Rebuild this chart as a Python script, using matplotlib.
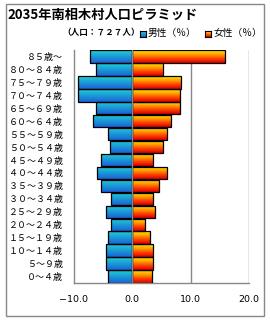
import numpy as np
import matplotlib
matplotlib.use('Agg')
import matplotlib.pyplot as plt
from matplotlib.colors import LinearSegmentedColormap
from matplotlib.patches import Rectangle

plt.rcParams['font.family'] = ['Noto Sans CJK JP', 'DejaVu Sans']

ages = ['０～４歳', '５～９歳', '１０～１４歳', '１５～１９歳', '２０～２４歳', '２５～２９歳',
        '３０～３４歳', '３５～３９歳', '４０～４４歳', '４５～４９歳', '５０～５４歳', '５５～５９歳',
        '６０～６４歳', '６５～６９歳', '７０～７４歳', '７５～７９歳', '８０～８４歳', '８５歳～']
male = [4.2, 4.6, 4.6, 4.2, 3.6, 4.6, 3.6, 5.4, 6.0, 5.4, 3.9, 4.2, 6.7, 6.3, 9.4, 9.4, 6.3, 7.3]
female = [3.3, 3.6, 3.6, 3.1, 2.2, 3.8, 3.6, 4.5, 5.9, 3.6, 5.3, 5.9, 6.6, 8.1, 8.1, 8.4, 5.3, 15.9]
xticks = [-10, 0, 10, 20]

cmap_m = LinearSegmentedColormap.from_list('m', ['#1c62d6', '#1a9ad8', '#22d0d0'])
cmap_f = LinearSegmentedColormap.from_list('f', ['#d80000', '#ff4000', '#ffa000', '#ffe800'])

fig = plt.figure(figsize=(2.7, 3.2), dpi=100)
ax = fig.add_axes([74 / 270, 1 - 283 / 320, 175 / 270, 233 / 320])

y = np.arange(len(ages))
grad = np.linspace(0, 1, 32).reshape(-1, 1)


def fill_gradient(bars, cmap):
    for p in bars:
        x0, y0 = p.get_x(), p.get_y()
        w, h = p.get_width(), p.get_height()
        im = ax.imshow(grad, cmap=cmap, aspect='auto', origin='lower',
                       extent=(min(x0, x0 + w), max(x0, x0 + w), y0, y0 + h), zorder=2)
        im.set_clip_path(p)
        p.set_facecolor('none')


bm = ax.barh(y, [-v for v in male], height=0.96, edgecolor='black', lw=0.9, zorder=3)
bf = ax.barh(y, female, height=0.96, edgecolor='black', lw=0.9, zorder=3)
fill_gradient(bm, cmap_m)
fill_gradient(bf, cmap_f)

for x in [0, 10, 20]:
    ax.axvline(x, color='#888888', lw=1, zorder=4 if x == 0 else 1)

ax.set_xlim(-10, 20)
ax.set_ylim(-0.5, len(ages) - 0.5)
ax.set_yticks(y)
ax.set_yticklabels(ages, fontsize=6.5)
ax.set_xticks(xticks)
ax.set_xticklabels(['−10.0', '0.0', '10.0', '20.0'], fontsize=6.8, family='DejaVu Sans')
ax.tick_params(length=0, pad=8)
ax.tick_params(axis='x', pad=9)
for s in ['top', 'right']:
    ax.spines[s].set_visible(False)
for s in ['left', 'bottom']:
    ax.spines[s].set_color('#888888')
    ax.spines[s].set_linewidth(1)

# outer frame
fig.patches.append(Rectangle((6 / 270, 4 / 320), 258 / 270, 312 / 320, transform=fig.transFigure,
                             fill=False, edgecolor='#888888', lw=1))

fig.text(7 / 270, 1 - 15 / 320, '2035年南相木村人口ピラミッド', fontsize=9.5, fontweight='bold',
         va='center', ha='left')
fig.text(62 / 270, 1 - 33 / 320, '（人口：７２７人）', fontsize=6.2, fontweight='bold',
         va='center', ha='left')

# legend
for x0, cm, label in [(140, cmap_m, '男性（％）'), (205, cmap_f, '女性（％）')]:
    lax = fig.add_axes([x0 / 270, 1 - 37 / 320, 6 / 270, 6 / 320])
    lax.imshow(grad, cmap=cm, aspect='auto', origin='lower')
    lax.set_xticks([])
    lax.set_yticks([])
    for s in lax.spines.values():
        s.set_linewidth(0.8)
    fig.text((x0 + 8) / 270, 1 - 33 / 320, label, fontsize=7, va='center', ha='left')

fig.savefig('out.png', dpi=100)
